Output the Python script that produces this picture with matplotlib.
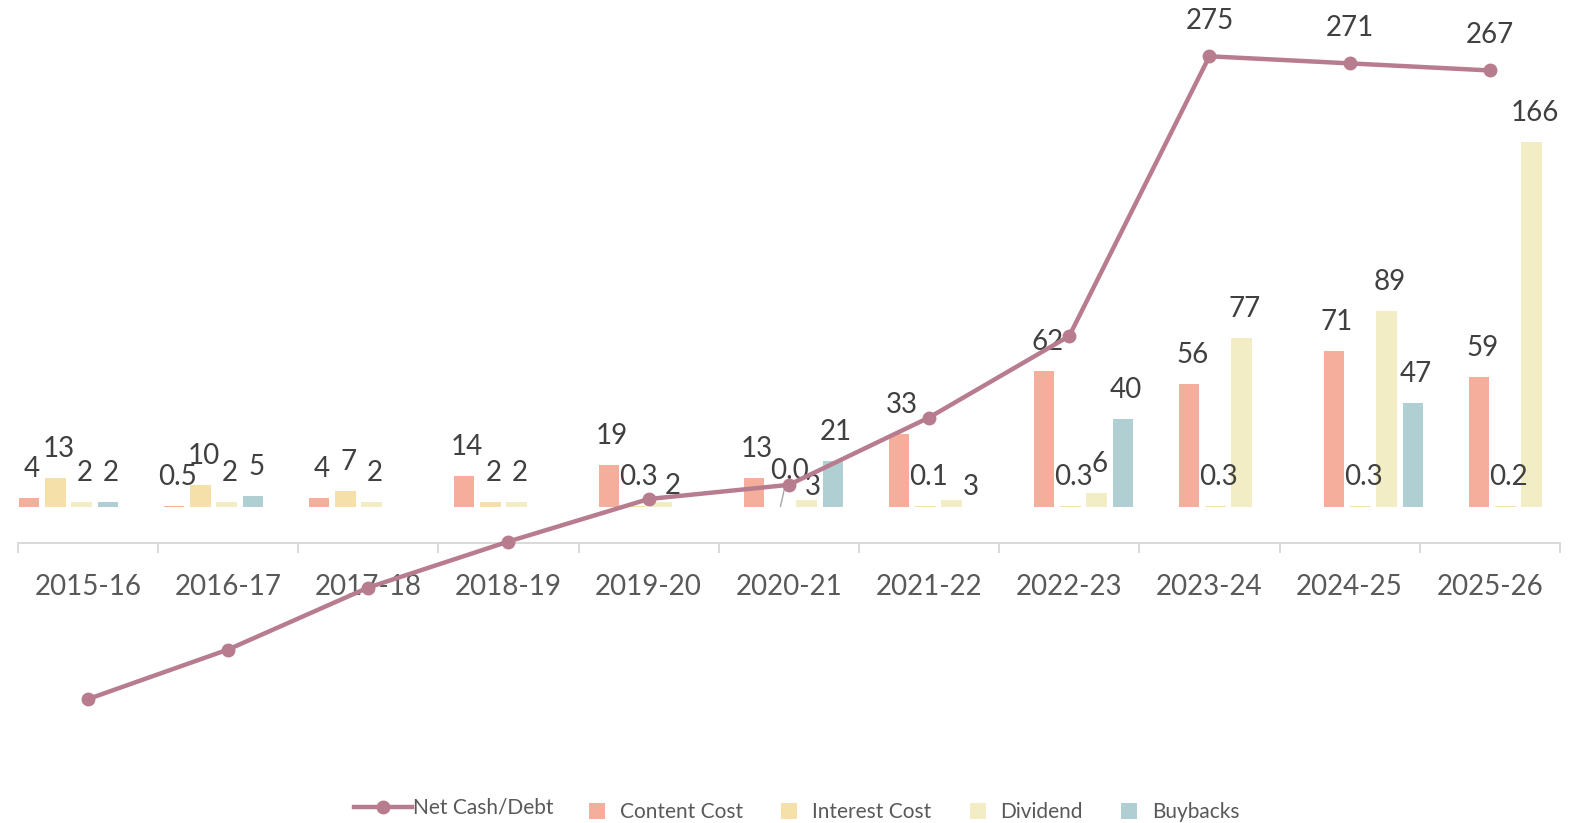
import numpy as np
import matplotlib
matplotlib.use("Agg")
import matplotlib.pyplot as plt
from matplotlib.lines import Line2D
from matplotlib.patches import Patch

# ---------------- data ----------------
years = ["2015-16", "2016-17", "2017-18", "2018-19", "2019-20", "2020-21",
         "2021-22", "2022-23", "2023-24", "2024-25", "2025-26"]
content_cost = [4, 0.5, 4, 14, 19, 13, 33, 62, 56, 71, 59]
interest_cost = [13, 10, 7, 2, 0.3, 0.0, 0.1, 0.3, 0.3, 0.3, 0.2]
dividend = [2, 2, 2, 2, 2, 3, 3, 6, 77, 89, 166]
buybacks = [2, 5, np.nan, np.nan, np.nan, 21, np.nan, 40, np.nan, 47, np.nan]
net_cash = [-88, -60, -25, 1, 25, 33, 71, 117, 275, 271, 267]
net_cash_labelled = [False] * 8 + [True] * 3

series = [("Content Cost", content_cost, "#F5AE9B"),
          ("Interest Cost", interest_cost, "#F6E0AA"),
          ("Dividend", dividend, "#F2EDC4"),
          ("Buybacks", buybacks, "#AFCFD3")]
line_color = "#B87C8F"
label_color = "#404040"
axis_text_color = "#595959"
FONT = "Lato"

# label placement tweaks (pixels) where the reference moved labels to avoid overlaps
label_nudge = {("Dividend", 4): (8, -13), ("Dividend", 5): (3, -16),
               ("Dividend", 6): (16, -16), ("Interest Cost", 5): (6, 7)}

W, H = 1575, 823
fig = plt.figure(figsize=(W / 100, H / 100), dpi=100)
fig.patch.set_facecolor("white")

left_px, right_px, top_px, bottom_px = 17.7, 1559.9, 0, 740
rect = [left_px / W, (H - bottom_px) / H, (right_px - left_px) / W, (bottom_px - top_px) / H]

ax_b = fig.add_axes(rect)
ax_l = fig.add_axes(rect)
ax_l.patch.set_alpha(0)

# bar axis (own horizontal scale, as in the reference)
ax_b.set_xlim(-0.351, 10.285)
ax_b.set_ylim(-106.3, 230.8)
ax_b.axis("off")

x = np.arange(len(years))
step = 0.1814
width = 0.1414
offsets = [-1.5, -0.5, 0.5, 1.5]
base_dx, base_dy = 3, 21
for (name, vals, col), off in zip(series, offsets):
    vals = np.array(vals, dtype=float)
    xs = x + off * step
    ax_b.bar(xs, vals, width=width, color=col, label=name, zorder=2)
    for i, (xi, v) in enumerate(zip(xs, vals)):
        if np.isnan(v):
            continue
        txt = f"{v:.1f}" if v < 1 else f"{v:.0f}"
        ndx, ndy = label_nudge.get((name, i), (0, 0))
        kw = dict(textcoords="offset pixels", ha="center", va="baseline", fontsize=20,
                  color=label_color, family=FONT, zorder=5)
        if name == "Interest Cost" and v == 0.0:
            kw["arrowprops"] = dict(arrowstyle="-", color="#A6A6A6", lw=1,
                                    shrinkA=0, shrinkB=0, relpos=(0.4, 0.0))
        ax_b.annotate(txt, (xi, v), xytext=(base_dx + ndx, base_dy + ndy), **kw)

# line axis (categories)
ax_l.set_xlim(-0.5, 10.5)
ax_l.set_ylim(-111.07, 306.78)
ax_l.plot(x, net_cash, color=line_color, lw=3.2, marker="o", ms=9, zorder=4,
          label="Net Cash/Debt", solid_capstyle="round")
for xi, v, show in zip(x, net_cash, net_cash_labelled):
    if show:
        ax_l.annotate(f"{v}", (xi, v), xytext=(0, 27), textcoords="offset pixels",
                      ha="center", va="baseline", fontsize=20, color=label_color,
                      family=FONT, zorder=5)

for s in ["top", "right", "left"]:
    ax_l.spines[s].set_visible(False)
ax_l.spines["bottom"].set_position(("data", 0))
ax_l.spines["bottom"].set_color("#D9D9D9")
ax_l.spines["bottom"].set_linewidth(1.4)
ax_l.set_yticks([])
ax_l.set_xticks(np.arange(-0.5, len(years), 1.0))
ax_l.set_xticklabels([])
ax_l.set_xticks(x, minor=True)
ax_l.set_xticklabels(years, minor=True)
ax_l.tick_params(axis="x", which="major", direction="out", length=7.5, width=1.4,
                 color="#D9D9D9")
ax_l.tick_params(axis="x", which="minor", length=0, pad=22, labelsize=20,
                 labelcolor=axis_text_color)
for lab in ax_l.get_xticklabels(minor=True):
    lab.set_family(FONT)

# legends
line_handle = Line2D([0], [0], color=line_color, lw=3.2, marker="o", ms=9)
leg1 = fig.legend([line_handle], ["Net Cash/Debt"], loc="center left",
                  bbox_to_anchor=(354 / W, (H - 808) / H), frameon=False,
                  handlelength=2.8, handletextpad=0.05, borderpad=0, borderaxespad=0,
                  prop={"family": FONT, "size": 15}, labelcolor=axis_text_color)
patch_handles = [Patch(facecolor=c, edgecolor="none") for _, _, c in series]
leg2 = fig.legend(patch_handles, [n for n, _, _ in series], loc="center left",
                  bbox_to_anchor=(589 / W, (H - 812) / H), frameon=False, ncol=4,
                  handlelength=0.77, handleheight=0.77, handletextpad=0.7,
                  columnspacing=1.85, borderpad=0, borderaxespad=0,
                  prop={"family": FONT, "size": 15}, labelcolor=axis_text_color)

fig.savefig("out.png", dpi=100, facecolor="white")
